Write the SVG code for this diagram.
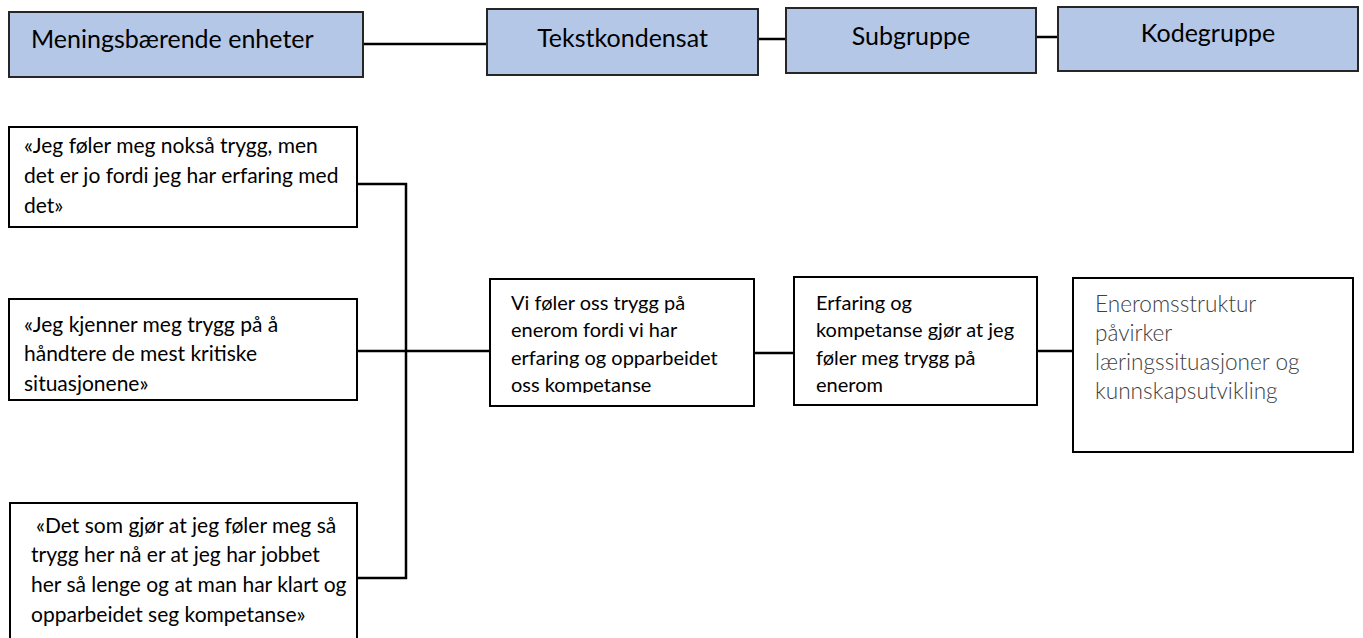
<svg xmlns="http://www.w3.org/2000/svg" width="1363" height="638" viewBox="0 0 1363 638">
<style>
.hdr rect {fill:#B4C7E7; stroke:#262626; stroke-width:2}
.box rect {fill:#ffffff; stroke:#000000; stroke-width:2}
text {font-family: Lato, Carlito, "Liberation Sans", sans-serif; fill:#000000}
.h {font-size:25px}
.q {font-size:21px}
.m {font-size:20px}
.l {font-size:22.6px; font-weight:300; fill:#404040}
.conn path {stroke:#000000; stroke-width:2.5; fill:none}
</style>
<defs>
<clipPath id="clipVi"><rect x="490" y="279" width="264" height="114"/></clipPath>
</defs>
<rect x="0" y="0" width="1363" height="638" fill="#ffffff"/>

<g id="connectors" class="conn">
<path d="M363 44 H487"/>
<path d="M758 39 H786"/>
<path d="M1036 37 H1058"/>
<path d="M357 184 H406 V578 H357"/>
<path d="M357 351 H490"/>
<path d="M754 353 H794"/>
<path d="M1037 351 H1073"/>
</g>

<g id="meningsbaerende" class="hdr">
<rect x="9" y="12" width="354" height="65"/>
<text class="h" x="31" y="48">Meningsbærende enheter</text>
</g>
<g id="tekstkondensat" class="hdr">
<rect x="487" y="9" width="271" height="66"/>
<text class="h" x="622.5" y="47" text-anchor="middle">Tekstkondensat</text>
</g>
<g id="subgruppe" class="hdr">
<rect x="786" y="8" width="250" height="65"/>
<text class="h" x="911" y="45" text-anchor="middle">Subgruppe</text>
</g>
<g id="kodegruppe" class="hdr">
<rect x="1058" y="7" width="300" height="64"/>
<text class="h" x="1208" y="42" text-anchor="middle">Kodegruppe</text>
</g>

<g id="sitat1" class="box">
<rect x="9" y="127" width="348" height="100"/>
<text class="q" x="24" y="153">«Jeg føler meg nokså trygg, men</text>
<text class="q" x="24" y="183">det er jo fordi jeg har erfaring med</text>
<text class="q" x="24" y="213">det»</text>
</g>
<g id="sitat2" class="box">
<rect x="9" y="299" width="348" height="101"/>
<text class="q" x="24" y="332">«Jeg kjenner meg trygg på å</text>
<text class="q" x="24" y="361">håndtere de mest kritiske</text>
<text class="q" x="24" y="391">situasjonene»</text>
</g>
<g id="sitat3" class="box">
<rect x="10" y="503" width="347" height="150"/>
<text class="q" x="36" y="533">«Det som gjør at jeg føler meg så</text>
<text class="q" x="31" y="562">trygg her nå er at jeg har jobbet</text>
<text class="q" x="31" y="592">her så lenge og at man har klart og</text>
<text class="q" x="31" y="622">opparbeidet seg kompetanse»</text>
</g>

<g id="kondensat" class="box">
<rect x="490" y="279" width="264" height="127"/>
<g clip-path="url(#clipVi)">
<text class="m" x="511" y="310">Vi føler oss trygg på</text>
<text class="m" x="511" y="337">enerom fordi vi har</text>
<text class="m" x="511" y="365">erfaring og opparbeidet</text>
<text class="m" x="511" y="392">oss kompetanse</text>
</g>
</g>
<g id="subgruppe-innhold" class="box">
<rect x="794" y="277" width="243" height="128"/>
<text class="m" x="816" y="310">Erfaring og</text>
<text class="m" x="816" y="337">kompetanse gjør at jeg</text>
<text class="m" x="816" y="365">føler meg trygg på</text>
<text class="m" x="816" y="392">enerom</text>
</g>
<g id="kodegruppe-innhold" class="box">
<rect x="1073" y="278" width="280" height="174"/>
<text class="l" x="1095" y="312">Eneromsstruktur</text>
<text class="l" x="1095" y="341">påvirker</text>
<text class="l" x="1095" y="370">læringssituasjoner og</text>
<text class="l" x="1095" y="399">kunnskapsutvikling</text>
</g>
</svg>
